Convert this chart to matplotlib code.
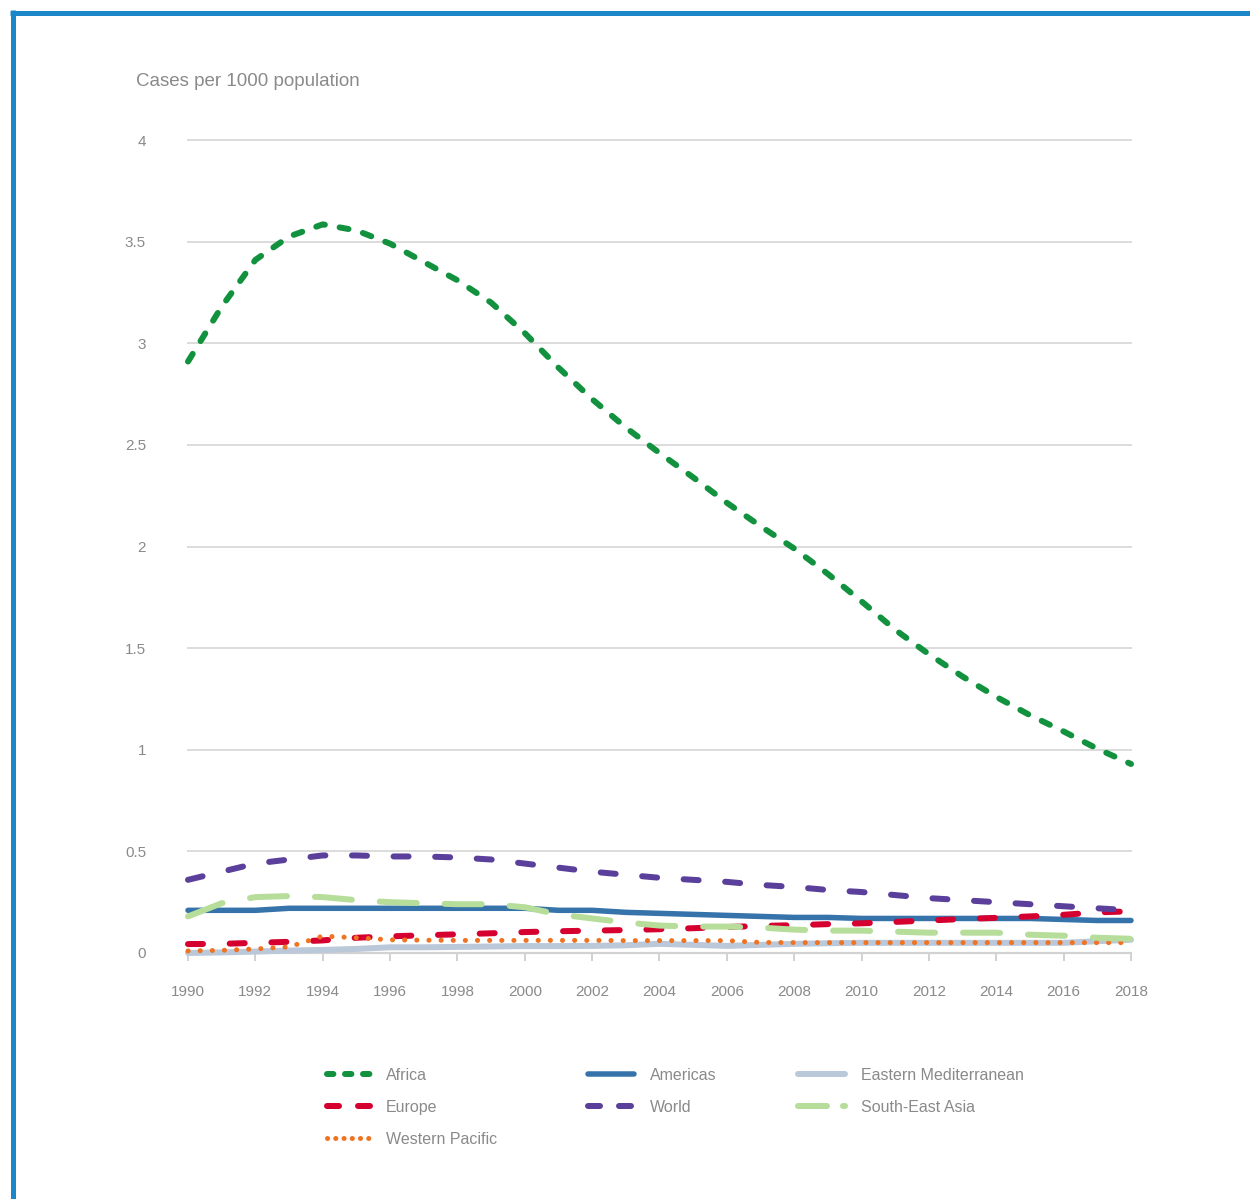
import matplotlib
matplotlib.use("Agg")
import matplotlib.pyplot as plt
from matplotlib.lines import Line2D

plt.rcParams['font.family'] = ['Liberation Sans', 'DejaVu Sans']
plt.rcParams['lines.scale_dashes'] = False

years = list(range(1990, 2019))

africa = [2.91, 3.18, 3.41, 3.525, 3.585, 3.555, 3.49, 3.40, 3.31, 3.20,
          3.05, 2.88, 2.725, 2.585, 2.46, 2.34, 2.215, 2.10, 1.99, 1.865,
          1.73, 1.59, 1.47, 1.36, 1.26, 1.17, 1.09, 1.005, 0.93]
americas = [0.21, 0.21, 0.21, 0.22, 0.22, 0.22, 0.22, 0.22, 0.22, 0.22,
            0.22, 0.21, 0.21, 0.20, 0.195, 0.19, 0.185, 0.18, 0.175, 0.175,
            0.17, 0.17, 0.17, 0.17, 0.17, 0.17, 0.165, 0.16, 0.16]
eastern_med = [0.0, 0.003, 0.007, 0.012, 0.015, 0.02, 0.028, 0.028, 0.03, 0.032,
               0.034, 0.034, 0.035, 0.038, 0.045, 0.04, 0.035, 0.04, 0.045, 0.048,
               0.05, 0.05, 0.05, 0.05, 0.05, 0.05, 0.05, 0.058, 0.065]
europe = [0.044, 0.045, 0.05, 0.055, 0.062, 0.075, 0.082, 0.087, 0.092, 0.097,
          0.103, 0.107, 0.11, 0.113, 0.117, 0.122, 0.128, 0.133, 0.137, 0.142,
          0.146, 0.153, 0.16, 0.167, 0.173, 0.18, 0.188, 0.20, 0.205]
world = [0.36, 0.40, 0.44, 0.46, 0.48, 0.48, 0.475, 0.475, 0.47, 0.46,
         0.44, 0.42, 0.40, 0.385, 0.37, 0.36, 0.35, 0.335, 0.325, 0.31,
         0.30, 0.285, 0.27, 0.26, 0.25, 0.24, 0.23, 0.22, 0.21]
se_asia = [0.18, 0.245, 0.275, 0.28, 0.275, 0.26, 0.25, 0.245, 0.24, 0.24,
           0.225, 0.19, 0.17, 0.15, 0.135, 0.13, 0.13, 0.125, 0.115, 0.11,
           0.11, 0.105, 0.10, 0.10, 0.10, 0.09, 0.085, 0.075, 0.07]
western_pacific = [0.01, 0.013, 0.02, 0.03, 0.083, 0.075, 0.065, 0.063, 0.062, 0.062,
                   0.062, 0.062, 0.062, 0.061, 0.061, 0.061, 0.061, 0.052, 0.051, 0.051,
                   0.051, 0.051, 0.051, 0.051, 0.051, 0.051, 0.051, 0.051, 0.051]

y_ticks = [0, 0.5, 1, 1.5, 2, 2.5, 3, 3.5, 4]
y_tick_labels = ['0', '0.5', '1', '1.5', '2', '2.5', '3', '3.5', '4']
x_ticks = list(range(1990, 2019, 2))

TEXT = '#8a8a8a'
GRID = '#dcdcdc'
PX = 0.72  # points per pixel at 100 dpi

W, H = 1250, 1199
fig = plt.figure(figsize=(W / 100, H / 100), dpi=100)
fig.patch.set_facecolor('white')

ax = fig.add_axes([188 / W, (H - 953) / H, (1131 - 188) / W, (953 - 140) / H])
ax.set_xlim(1990, 2018)
ax.set_ylim(0, 4)

for s in ['top', 'right', 'left']:
    ax.spines[s].set_visible(False)
ax.spines['bottom'].set_color('#d2d2d2')
ax.spines['bottom'].set_linewidth(2.2 * PX)

ax.set_yticks(y_ticks)
ax.set_yticklabels(y_tick_labels)
ax.set_xticks(x_ticks)
ax.set_xticklabels([str(y) for y in x_ticks])
ax.tick_params(axis='y', length=0, pad=42 * PX, labelsize=11, labelcolor=TEXT)
ax.tick_params(axis='x', length=8 * PX, width=2 * PX, color='#d2d2d2',
               pad=24 * PX, labelsize=11, labelcolor=TEXT)
ax.yaxis.grid(True, color=GRID, linewidth=2 * PX)
ax.set_axisbelow(True)
for gl in ax.get_ygridlines():
    gl.set_clip_on(False)

styles = {
    'Eastern Mediterranean': dict(color='#bac8da', lw=6 * PX),
    'Americas': dict(color='#3673aa', lw=5.5 * PX),
    'Europe': dict(color='#d5002f', lw=6 * PX, dashes=(15 * PX, 26.7 * PX)),
    'Western Pacific': dict(color='#f07322', lw=5 * PX, dashes=(0.1, 12 * PX)),
    'South-East Asia': dict(color='#b6dd9a', lw=6 * PX, dashes=(37 * PX, 28 * PX)),
    'World': dict(color='#5a3f9b', lw=6 * PX, dashes=(15 * PX, 26.6 * PX)),
    'Africa': dict(color='#12923e', lw=6 * PX, dashes=(9 * PX, 15 * PX)),
}
series = {
    'Eastern Mediterranean': eastern_med,
    'Americas': americas,
    'Europe': europe,
    'Western Pacific': western_pacific,
    'South-East Asia': se_asia,
    'World': world,
    'Africa': africa,
}
for i, (name, vals) in enumerate(series.items()):
    st = styles[name]
    line, = ax.plot(years, vals, color=st['color'], linewidth=st['lw'],
                    solid_capstyle='round', dash_capstyle='round',
                    solid_joinstyle='round', dash_joinstyle='round',
                    clip_on=False, zorder=3 + i)
    if 'dashes' in st:
        line.set_dashes(st['dashes'])

# y-axis caption
fig.text(136 / W, 1 - 81 / H, 'Cases per 1000 population', fontsize=13.5,
         color=TEXT, va='center', ha='left')

# legend: three columns, each its own block; samples use shorter dash patterns
legend_dashes = {
    'Africa': (6.4 * PX, 11.6 * PX),
    'Europe': (12 * PX, 19 * PX),
    'World': (12 * PX, 19 * PX),
    'South-East Asia': (29 * PX, 16 * PX),
    'Western Pacific': (0.1, 8.1 * PX),
}
columns = [
    (['Africa', 'Europe', 'Western Pacific'], 327, 43),
    (['Americas', 'World'], 588, 46),
    (['Eastern Mediterranean', 'South-East Asia'], 798, 47),
]
FS = 11.5
for names, x0, hlen_px in columns:
    handles = []
    for name in names:
        st = styles[name]
        h = Line2D([], [], color=st['color'], linewidth=st['lw'],
                   solid_capstyle='round', dash_capstyle='round')
        if name in legend_dashes:
            h.set_dashes(legend_dashes[name])
        handles.append(h)
    leg = fig.legend(handles, names, ncol=1, loc='upper left',
                     bbox_to_anchor=(x0 / W, 1 - 1068 / H),
                     frameon=False, fontsize=FS,
                     handlelength=hlen_px / (FS / PX),
                     handletextpad=1.0, labelspacing=1.06,
                     borderpad=0, borderaxespad=0)
    for t in leg.get_texts():
        t.set_color(TEXT)

# blue frame along the top and left edges
BLUE = '#1b87c9'
fig.add_artist(Line2D([10 / W, 1.0], [1 - 12.5 / H] * 2, transform=fig.transFigure,
                      color=BLUE, linewidth=5 * PX, solid_capstyle='butt'))
fig.add_artist(Line2D([12.5 / W] * 2, [0.0, 1 - 10 / H], transform=fig.transFigure,
                      color=BLUE, linewidth=5 * PX, solid_capstyle='butt'))

fig.savefig('out.png', dpi=100, facecolor='white')
